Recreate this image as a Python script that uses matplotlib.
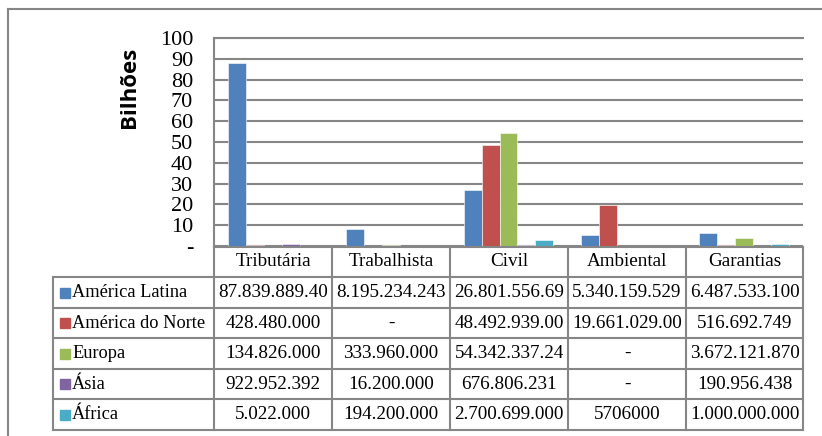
import matplotlib.pyplot as plt
from matplotlib.patches import Rectangle
from matplotlib.ticker import FuncFormatter

categories = ['Tributária', 'Trabalhista', 'Civil', 'Ambiental', 'Garantias']
regions = ['América Latina', 'América do Norte', 'Europa', 'Ásia', 'África']
colors = ['#4F81BD', '#C0504D', '#9BBB59', '#8064A2', '#4BACC6']

# values in billions
latina = [87.84, 8.195, 26.80, 5.340, 6.488]
norte = [0.428, 0.0, 48.49, 19.66, 0.517]
europa = [0.135, 0.334, 54.34, 0.0, 3.672]
asia = [0.923, 0.0162, 0.677, 0.0, 0.191]
africa = [0.005, 0.194, 2.701, 0.0057, 1.0]
series = [latina, norte, europa, asia, africa]

# table text as printed in the source
table_text = [
    ['87.839.889.40', '8.195.234.243', '26.801.556.69', '5.340.159.529', '6.487.533.100'],
    ['428.480.000', '-', '48.492.939.00', '19.661.029.00', '516.692.749'],
    ['134.826.000', '333.960.000', '54.342.337.24', '-', '3.672.121.870'],
    ['922.952.392', '16.200.000', '676.806.231', '-', '190.956.438'],
    ['5.022.000', '194.200.000', '2.700.699.000', '5706000', '1.000.000.000'],
]

W, H = 822, 436
fig = plt.figure(figsize=(W / 100, H / 100), dpi=100)
serif = 'Liberation Serif'
grid_c = '#868686'


def fx(px):
    return px / W


def fy(py):
    return 1 - py / H


def hline(x0, x1, y, lw=1.5):
    fig.add_artist(plt.Line2D([fx(x0), fx(x1)], [fy(y), fy(y)], color=grid_c, lw=lw))


def vline(x, y0, y1, lw=1.5):
    fig.add_artist(plt.Line2D([fx(x), fx(x)], [fy(y0), fy(y1)], color=grid_c, lw=lw))


# outer chart border
hline(8, 822, 9)
vline(8, 9, 436)

# plot area
left, right, top, bottom = 214, 803, 38, 246
ax = fig.add_axes([fx(left), fy(bottom), fx(right - left), (bottom - top) / H])
n = len(series)
w = 18 / 118
for j, (vals, c) in enumerate(zip(series, colors)):
    xs = [i + (j - (n - 1) / 2) * w for i in range(len(categories))]
    ax.bar(xs, vals, width=w, color=c, edgecolor='white', linewidth=0.4, zorder=3)
ax.set_xlim(-0.5, len(categories) - 0.5)
ax.set_ylim(0, 100)
ax.set_yticks(range(0, 101, 10))
ax.yaxis.set_major_formatter(FuncFormatter(lambda v, p: '-' if v == 0 else f'{v:.0f}'))
ax.set_xticks([])
ax.tick_params(axis='y', length=0, pad=15, labelsize=16)
for t in ax.get_yticklabels():
    t.set_fontfamily(serif)
ax.grid(axis='y', color=grid_c, lw=1.5, zorder=0)
for s in ['right', 'bottom']:
    ax.spines[s].set_visible(False)
ax.spines['left'].set_color(grid_c)
ax.spines['left'].set_linewidth(1.5)
ax.spines['top'].set_color(grid_c)
ax.spines['top'].set_linewidth(1.5)
ax.set_ylabel('Bilhões', fontsize=16, fontweight='bold', family='Open Sans')
ax.yaxis.set_label_coords(-0.125, 0.765)

# data table
col_x = [214, 332, 450, 568, 686, 803]
row_y = [247, 277, 308, 338, 369, 399, 430]
lab_x = 53
fs = 13.8

hline(214, 803, row_y[0])
for y in row_y[1:]:
    hline(lab_x, 803, y)
for x in col_x:
    vline(x, row_y[0], row_y[-1])
vline(lab_x, row_y[1], row_y[-1])

for i, cat in enumerate(categories):
    fig.text(fx((col_x[i] + col_x[i + 1]) / 2), fy((row_y[0] + row_y[1]) / 2), cat,
             ha='center', va='center', fontsize=fs, family=serif)

for r, (name, c) in enumerate(zip(regions, colors)):
    yc = (row_y[r + 1] + row_y[r + 2]) / 2
    fig.add_artist(Rectangle((fx(60), fy(yc + 5)), fx(10), 10 / H, color=c,
                             transform=fig.transFigure))
    fig.text(fx(72), fy(yc), name, ha='left', va='center', fontsize=fs - 0.6, family=serif)
    for i in range(len(categories)):
        fig.text(fx((col_x[i] + col_x[i + 1]) / 2), fy(yc), table_text[r][i],
                 ha='center', va='center', fontsize=fs, family=serif)

fig.savefig('out.png', dpi=100)
